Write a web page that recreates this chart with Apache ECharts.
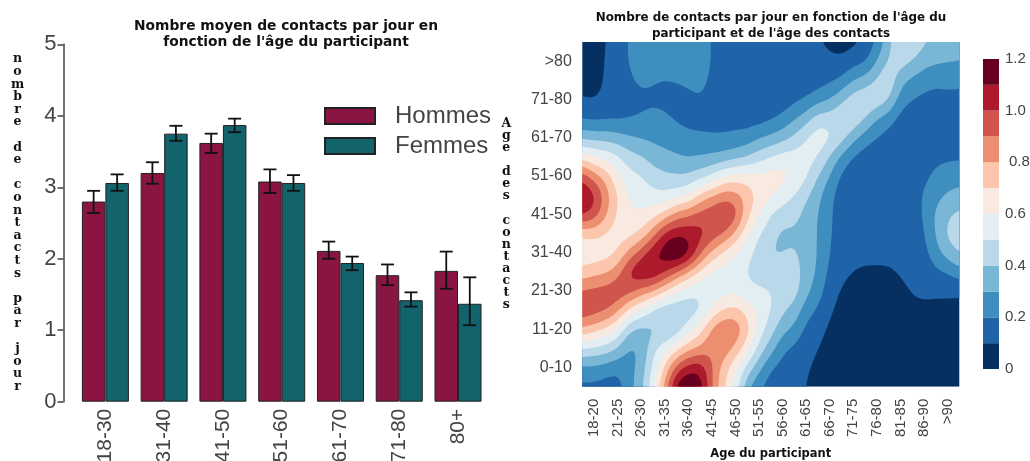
<!DOCTYPE html>
<html>
<head>
<meta charset="utf-8">
<style>
  html, body { margin: 0; padding: 0; background: #fff; }
  #chart { width: 1030px; height: 461px; }
</style>
<script src="https://cdn.jsdelivr.net/npm/echarts@6/dist/echarts.min.js"></script>
</head>
<body>
<div id="chart"></div>
<script>
// Barres : contacts moyens par tranche d'age
const ageGroups = ['18-30', '31-40', '41-50', '51-60', '61-70', '71-80', '80+']
const hommes = [2.8, 3.2, 3.62, 3.08, 2.11, 1.77, 1.83]
const femmes = [3.06, 3.75, 3.87, 3.06, 1.94, 1.42, 1.37]
const hommesLow = [2.64, 3.05, 3.48, 2.92, 2.0, 1.63, 1.58]
const hommesHigh = [2.95, 3.35, 3.75, 3.25, 2.24, 1.92, 2.1]
const femmesLow = [2.95, 3.65, 3.77, 2.95, 1.84, 1.33, 1.07]
const femmesHigh = [3.18, 3.86, 3.96, 3.17, 2.03, 1.53, 1.74]

// Carte : axes et niveaux
const participantAges = ['18-20', '21-25', '26-30', '31-35', '36-40', '41-45', '46-50', '51-55', '56-60', '61-65', '66-70', '71-75', '76-80', '81-85', '86-90', '>90']
const contactAges = ['0-10', '11-20', '21-30', '31-40', '41-50', '51-60', '61-70', '71-80', '>80']
const bandLevels = [0, 0.1, 0.2, 0.3, 0.4, 0.5, 0.6, 0.7, 0.8, 0.9, 1.0, 1.1]
const bandColors = ['#053061', '#1f63a8', '#3f8ec0', '#7ab6d6', '#b9d8e9', '#e3eef3', '#f8e9e1', '#fbc6ac', '#ec8f71', '#d0564d', '#ac1a2b', '#67001f']

const contactGrid = [
  [.05, .05, .07, .10, .19, .37, .65, .98, 1.12, 1.05, .70, .63, .72, .92, .99, .80, .50, .27, .17],
  [.05, .05, .07, .09, .17, .36, .60, .85, 1.05, .98, .72, .63, .75, .95, .97, .74, .48, .27, .17],
  [.10, .11, .11, .12, .18, .36, .57, .76, .86, .82, .68, .64, .78, .96, .94, .68, .46, .25, .15],
  [.15, .15, .15, .14, .18, .34, .52, .62, .70, .68, .65, .69, .85, 1.00, .84, .60, .39, .22, .14],
  [.21, .21, .18, .16, .19, .31, .44, .53, .59, .60, .65, .83, 1.05, .96, .67, .39, .27, .26, .27],
  [.25, .25, .23, .17, .21, .29, .41, .51, .56, .61, .71, .95, 1.12, .87, .58, .36, .30, .34, .36],
  [.26, .26, .21, .17, .24, .27, .36, .44, .53, .65, .84, 1.10, 1.12, .82, .47, .37, .48, .52, .57],
  [.26, .26, .19, .17, .22, .26, .33, .42, .51, .72, 1.05, 1.17, 1.03, .70, .41, .36, .56, .71, .83],
  [.26, .25, .21, .15, .19, .24, .31, .40, .55, .85, 1.08, 1.28, .90, .60, .41, .42, .66, .95, 1.17],
  [.26, .26, .23, .16, .17, .22, .29, .41, .58, .89, 1.08, 1.17, .79, .52, .43, .55, .76, 1.06, 1.24],
  [.26, .26, .25, .19, .16, .22, .30, .45, .73, .95, 1.05, .93, .67, .52, .46, .66, .81, 1.09, 1.18],
  [.19, .19, .17, .15, .16, .21, .31, .50, .80, .98, .98, .78, .58, .50, .62, .84, .88, .91, .90],
  [.15, .15, .15, .14, .14, .22, .32, .61, .86, 1.04, .92, .67, .55, .56, .70, .92, .88, .75, .70],
  [.14, .14, .14, .14, .15, .23, .35, .64, .85, .98, .78, .60, .52, .57, .74, .90, .78, .62, .58],
  [.13, .13, .13, .13, .15, .24, .39, .65, .76, .73, .62, .54, .49, .53, .66, .76, .64, .47, .30],
  [.12, .12, .12, .13, .15, .29, .46, .63, .68, .62, .50, .45, .44, .52, .58, .56, .46, .33, .21],
  [.12, .12, .12, .13, .18, .32, .50, .66, .63, .48, .44, .38, .44, .51, .51, .45, .35, .20, .14],
  [.12, .12, .12, .14, .22, .36, .55, .65, .54, .46, .36, .40, .43, .46, .42, .33, .21, .16, .13],
  [.12, .12, .13, .17, .29, .42, .55, .60, .50, .44, .38, .42, .45, .46, .37, .28, .18, .13, .12],
  [.11, .12, .14, .20, .35, .51, .55, .52, .42, .36, .35, .36, .36, .33, .24, .17, .13, .11, .10],
  [.11, .12, .15, .25, .47, .57, .51, .40, .33, .30, .30, .30, .29, .25, .19, .13, .10, .08, .07],
  [.08, .12, .18, .29, .46, .53, .39, .30, .22, .22, .21, .20, .17, .14, .11, .08, .07, .06, .05],
  [.06, .11, .21, .38, .50, .46, .27, .17, .15, .14, .14, .13, .12, .09, .07, .06, .05, .05, .05],
  [.07, .16, .30, .47, .50, .33, .18, .14, .13, .13, .13, .12, .10, .07, .05, .05, .05, .05, .05],
  [.12, .17, .34, .50, .41, .24, .15, .13, .13, .13, .13, .12, .09, .06, .05, .05, .05, .05, .05],
  [.20, .30, .42, .49, .29, .19, .14, .13, .13, .13, .13, .12, .09, .06, .05, .05, .05, .05, .05],
  [.37, .42, .50, .43, .24, .16, .13, .13, .13, .13, .13, .12, .09, .06, .05, .05, .05, .05, .05],
  [.50, .46, .33, .24, .16, .13, .13, .13, .13, .13, .13, .12, .11, .08, .05, .05, .05, .05, .05],
  [.50, .40, .27, .20, .14, .13, .13, .13, .14, .14, .13, .13, .12, .11, .08, .06, .05, .05, .05],
  [.42, .33, .25, .17, .14, .13, .14, .17, .22, .21, .19, .16, .13, .11, .09, .07, .05, .05, .05],
  [.37, .32, .22, .16, .14, .14, .17, .23, .27, .32, .31, .27, .18, .11, .08, .06, .05, .05, .05],
  [.35, .31, .23, .17, .15, .15, .18, .25, .31, .39, .43, .35, .20, .11, .08, .06, .05, .05, .05],
  [.33, .31, .21, .18, .16, .16, .18, .26, .33, .43, .47, .42, .27, .10, .08, .06, .05, .05, .05]
]

const MESH = 4 // subdivisions du trace par case de la grille

function bspline(p0, p1, p2, p3, t) {
  const t2 = t * t, t3 = t2 * t
  return ((1 - t) ** 3 * p0 + (3 * t3 - 6 * t2 + 4) * p1 + (-3 * t3 + 3 * t2 + 3 * t + 1) * p2 + t3 * p3) / 6
}

function gridAt(c, r) {
  const cc = Math.max(0, Math.min(contactGrid.length - 1, c))
  const rr = Math.max(0, Math.min(contactGrid[0].length - 1, r))
  return contactGrid[cc][rr]
}

// surface lisse pour tracer les isolignes, comme un contourf
function surface(u, v) {
  const c = Math.min(Math.floor(u), contactGrid.length - 2), r = Math.min(Math.floor(v), contactGrid[0].length - 2)
  const tu = u - c, tv = v - r
  const rows = []
  for (let k = -1; k <= 2; k++) {
    rows.push(bspline(gridAt(c - 1, r + k), gridAt(c, r + k), gridAt(c + 1, r + k), gridAt(c + 2, r + k), tu))
  }
  return bspline(rows[0], rows[1], rows[2], rows[3], tv)
}

const meshCols = (contactGrid.length - 1) * MESH + 1
const meshRows = (contactGrid[0].length - 1) * MESH + 1
const mesh = []
for (let i = 0; i < meshCols; i++) {
  const col = []
  for (let j = 0; j < meshRows; j++) col.push(surface(i / MESH, j / MESH))
  mesh.push(col)
}

// zone >= niveau, en polygones decoupes dans chaque maille
function bandPath(level, api) {
  const toPt = (u, v) => api.coord([-0.5 + u / MESH * 0.5, 8.5 - v / MESH * 0.5])
  const parts = []
  for (let i = 0; i < meshCols - 1; i++) {
    for (let j = 0; j < meshRows - 1; j++) {
      const q = [[i, j], [i + 1, j], [i + 1, j + 1], [i, j + 1]]
      const vals = q.map(p => mesh[p[0]][p[1]])
      if (Math.max(...vals) < level) continue
      const poly = []
      for (let k = 0; k < 4; k++) {
        const n = (k + 1) % 4
        if (vals[k] >= level) poly.push(q[k])
        if ((vals[k] >= level) !== (vals[n] >= level)) {
          const t = (level - vals[k]) / (vals[n] - vals[k])
          poly.push([q[k][0] + t * (q[n][0] - q[k][0]), q[k][1] + t * (q[n][1] - q[k][1])])
        }
      }
      parts.push(poly.map((p, idx) => {
        const pt = toPt(p[0], p[1])
        return (idx ? 'L' : 'M') + pt[0].toFixed(2) + ' ' + pt[1].toFixed(2)
      }).join('') + 'Z')
    }
  }
  return parts.join('')
}

function stacked(text) {
  return text.split('').join('\n')
}

function errorSeries(name, low, high, shift) {
  return {
    name, type: 'custom', xAxisIndex: 0, yAxisIndex: 0, z: 5, silent: true,
    data: low.map((v, i) => [i, v, high[i]]),
    renderItem(params, api) {
      const band = api.size([1, 0])[0]
      const x = api.coord([api.value(0), 0])[0] + shift * band
      const y0 = api.coord([0, api.value(1)])[1], y1 = api.coord([0, api.value(2)])[1]
      const style = { stroke: '#111', lineWidth: 1.8, fill: 'none' }
      return {
        type: 'group',
        children: [
          { type: 'line', shape: { x1: x, y1: y0, x2: x, y2: y1 }, style },
          { type: 'line', shape: { x1: x - 6.5, y1: y0, x2: x + 6.5, y2: y0 }, style },
          { type: 'line', shape: { x1: x - 6.5, y1: y1, x2: x + 6.5, y2: y1 }, style }
        ]
      }
    }
  }
}

const chart = echarts.init(document.getElementById('chart'), null, { renderer: 'canvas' })
const TICK = '#444'
const SANS = '"Liberation Sans", Arial, sans-serif'

chart.setOption({
  animation: false,
  backgroundColor: '#fff',
  title: [
    {
      text: 'Nombre moyen de contacts par jour en\nfonction de l\'âge du participant',
      left: 281, top: 13, textAlign: 'center',
      textStyle: { fontFamily: 'DejaVu Sans', fontWeight: 'bold', fontSize: 13.8, lineHeight: 16, color: '#111' }
    },
    {
      text: 'Nombre de contacts par jour en fonction de l\'âge du\nparticipant et de l\'âge des contacts',
      left: 766, top: 5, textAlign: 'center',
      textStyle: { fontFamily: 'DejaVu Sans', fontWeight: 'bold', fontSize: 11.9, lineHeight: 16, color: '#111' }
    }
  ],
  legend: {
    data: ['Hommes', 'Femmes'], orient: 'vertical', left: 319, top: 99, itemWidth: 50, itemHeight: 16, itemGap: 6, icon: 'rect',
    textStyle: { fontFamily: SANS, fontSize: 24, color: TICK, padding: [0, 0, 0, 15] }
  },
  grid: [
    { left: 76, top: 44.3, width: 411.4, height: 357.4, outerBoundsMode: 'none' },
    { left: 582.3, top: 42, width: 377, height: 344.7, outerBoundsMode: 'none' },
    { left: 983, top: 59, width: 16, height: 310, outerBoundsMode: 'none' }
  ],
  xAxis: [
    {
      type: 'category', gridIndex: 0, data: ageGroups,
      axisLine: { show: false }, axisTick: { show: false },
      axisLabel: { rotate: 90, interval: 0, margin: 7, fontFamily: SANS, fontSize: 21, color: TICK }
    },
    {
      type: 'category', gridIndex: 1, data: participantAges,
      name: 'Age du participant', nameLocation: 'middle', nameGap: 61,
      nameTextStyle: { fontFamily: 'DejaVu Sans', fontWeight: 'bold', fontSize: 11.5, color: '#111' },
      axisLine: { show: false },
      axisTick: { alignWithLabel: true, length: 6, lineStyle: { color: '#333' } },
      axisLabel: { rotate: 90, interval: 0, margin: 12, fontFamily: SANS, fontSize: 15, color: TICK }
    },
    { type: 'value', gridIndex: 1, min: -0.5, max: 15.5, show: false },
    { type: 'value', gridIndex: 2, min: 0, max: 1, show: false }
  ],
  yAxis: [
    {
      type: 'value', gridIndex: 0, min: 0, max: 5, interval: 1, offset: 12.5,
      name: stacked('nombre de contacts par jour'), nameLocation: 'middle', nameRotate: 0, nameGap: 46,
      nameTextStyle: { fontFamily: 'DejaVu Serif', fontWeight: 'bold', fontSize: 12.5, lineHeight: 12.6, align: 'center', color: '#111', padding: [7, 0, 0, 0] },
      splitLine: { show: false },
      axisLine: { show: true, lineStyle: { color: '#444', width: 1.5 } },
      axisTick: { show: true, length: 6, lineStyle: { color: '#444', width: 1.5 } },
      axisLabel: { margin: 7, fontFamily: SANS, fontSize: 22, color: TICK }
    },
    {
      type: 'category', gridIndex: 1, data: contactAges,
      name: stacked('Age des contacts'), nameLocation: 'middle', nameRotate: 0, nameGap: 76,
      nameTextStyle: { fontFamily: 'DejaVu Serif', fontWeight: 'bold', fontSize: 12.5, lineHeight: 12.1, align: 'center', color: '#111', padding: [4, 0, 0, 0] },
      axisLine: { show: false },
      axisTick: { alignWithLabel: true, length: 6, lineStyle: { color: '#333' } },
      axisLabel: { margin: 10.5, fontFamily: SANS, fontSize: 16, color: TICK }
    },
    { type: 'value', gridIndex: 1, min: -0.5, max: 8.5, show: false },
    {
      type: 'value', gridIndex: 2, position: 'right', min: 0, max: 1.2, interval: 0.2,
      splitLine: { show: false }, axisLine: { show: false }, axisTick: { show: false },
      axisLabel: {
        margin: 6, fontFamily: SANS, fontSize: 15, color: TICK,
        formatter: v => (v === 0 ? '0' : Math.abs(v - 0.8) < 1e-6 ? '{shift|0.8}' : v.toFixed(1)),
        rich: { shift: { padding: [0, 0, 0, 4], fontFamily: SANS, fontSize: 15, color: TICK } }
      }
    }
  ],
  series: [
    {
      name: 'Hommes', type: 'bar', xAxisIndex: 0, yAxisIndex: 0, data: hommes, barWidth: '40%', barGap: 0,
      itemStyle: { color: '#8b1542', borderColor: '#222', borderWidth: 1 }
    },
    {
      name: 'Femmes', type: 'bar', xAxisIndex: 0, yAxisIndex: 0, data: femmes, barWidth: '40%', barGap: 0,
      itemStyle: { color: '#12636b', borderColor: '#222', borderWidth: 1 }
    },
    errorSeries('errHommes', hommesLow, hommesHigh, -0.2),
    errorSeries('errFemmes', femmesLow, femmesHigh, 0.2),
    {
      // bandes de la carte, empilees du niveau le plus bas au plus haut
      name: 'contacts', type: 'custom', xAxisIndex: 2, yAxisIndex: 2, silent: true, clip: true,
      data: bandLevels.map((l, i) => [i, 0]),
      renderItem(params, api) {
        const i = api.value(0)
        return {
          type: 'path',
          shape: { pathData: bandPath(i === 0 ? -1 : bandLevels[i], api) },
          style: { fill: bandColors[i] }
        }
      }
    },
    {
      name: 'echelle', type: 'custom', xAxisIndex: 3, yAxisIndex: 3, silent: true,
      data: bandLevels.map((l, i) => [i, l]),
      renderItem(params, api) {
        const i = api.value(0), l = api.value(1)
        const a = api.coord([0, l + 0.1]), b = api.coord([1, l])
        return { type: 'rect', shape: { x: a[0], y: a[1], width: b[0] - a[0], height: b[1] - a[1] }, style: { fill: bandColors[i] } }
      }
    }
  ]
})
</script>
</body>
</html>
